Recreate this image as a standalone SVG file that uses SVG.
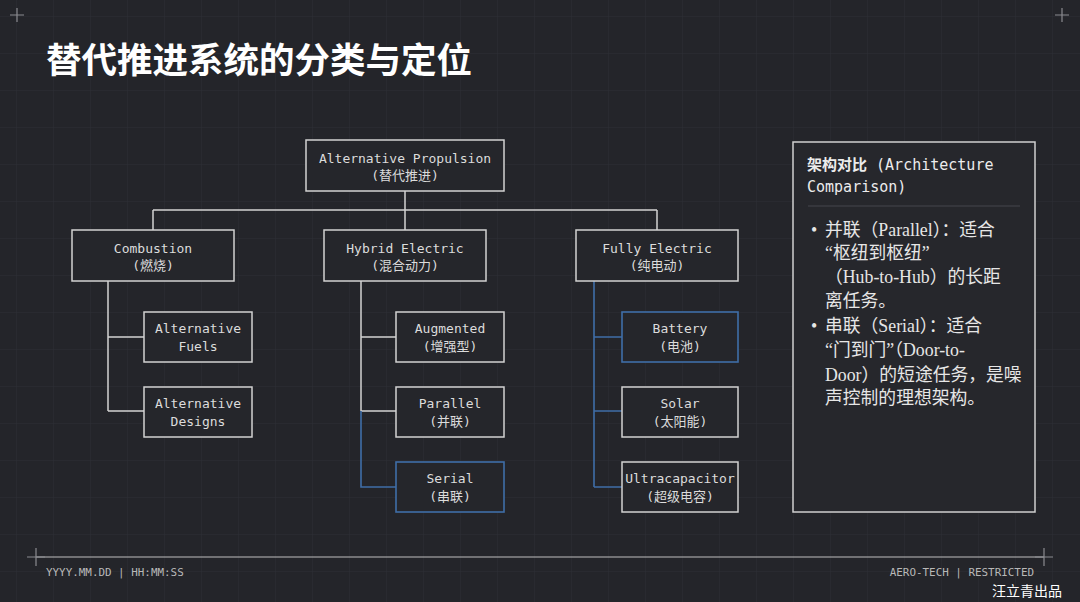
<svg xmlns="http://www.w3.org/2000/svg" width="1080" height="602" viewBox="0 0 1080 602">
<defs>
<pattern id="grid" x="16" y="16" width="37" height="37" patternUnits="userSpaceOnUse">
<path d="M0 0H37M0 0V37" fill="none" stroke="#34363d" stroke-width="1"/>
</pattern>
<style>
.box{fill:#25262b;stroke:#d2d2d2;stroke-width:1.5}
.boxb{fill:#25262b;stroke:#3f6ea8;stroke-width:1.6}
.t{font-family:"DejaVu Sans Mono","Noto Sans CJK SC",monospace;font-size:13px;fill:#dcdcdc;text-anchor:middle}
.w{fill:none;stroke:#d2d2d2;stroke-width:1.5}
.b{fill:none;stroke:#3f6ea8;stroke-width:1.6}
.cross{stroke:#8a8b90;stroke-width:1.2}
.note{font-family:"Liberation Serif","Noto Sans CJK SC",serif;font-size:17.8px;fill:#e6e6e6}
.foot{font-family:"DejaVu Sans Mono",monospace;font-size:10.9px;fill:#b8b8b8}
</style>
</defs>
<rect width="1080" height="602" fill="#24252a"/>
<rect width="1080" height="602" fill="url(#grid)" opacity="0.6"/>
<g id="corners">
<path class="cross" d="M10 15H24M17 8V22M1055 15H1069M1062 8V22"/>
</g>
<text x="46" y="73" font-family="Noto Sans CJK SC, sans-serif" font-weight="700" font-size="35.5" fill="#ffffff">替代推进系统的分类与定位</text>

<g id="connectors">
<path class="w" d="M405 191V210M153 210H657M153 210V230M405 210V230M657 210V230"/>
<path class="w" d="M108 281V411M108 337H144M108 411H144"/>
<path class="w" d="M361 281V411M361 337H396M361 411H396"/>
<path class="b" d="M361 411V487H396"/>
<path class="b" d="M594 281V487M594 337H622M594 411H622M594 487H622"/>
</g>

<g id="root"><rect class="box" x="306" y="140" width="198" height="51"/>
<text class="t" x="405" y="163">Alternative Propulsion</text><text class="t" x="405" y="180">(替代推进)</text></g>

<g id="combustion"><rect class="box" x="72" y="230" width="162" height="51"/>
<text class="t" x="153" y="253">Combustion</text><text class="t" x="153" y="270">(燃烧)</text></g>
<g id="hybrid"><rect class="box" x="324" y="230" width="162" height="51"/>
<text class="t" x="405" y="253">Hybrid Electric</text><text class="t" x="405" y="270">(混合动力)</text></g>
<g id="fully"><rect class="box" x="576" y="230" width="162" height="51"/>
<text class="t" x="657" y="253">Fully Electric</text><text class="t" x="657" y="270">(纯电动)</text></g>

<g id="altfuels"><rect class="box" x="144" y="312" width="108" height="50"/>
<text class="t" x="198" y="333">Alternative</text><text class="t" x="198" y="351">Fuels</text></g>
<g id="altdesigns"><rect class="box" x="144" y="387" width="108" height="50"/>
<text class="t" x="198" y="408">Alternative</text><text class="t" x="198" y="426">Designs</text></g>

<g id="augmented"><rect class="box" x="396" y="312" width="108" height="50"/>
<text class="t" x="450" y="333">Augmented</text><text class="t" x="450" y="351">(增强型)</text></g>
<g id="parallel"><rect class="box" x="396" y="387" width="108" height="50"/>
<text class="t" x="450" y="408">Parallel</text><text class="t" x="450" y="426">(并联)</text></g>
<g id="serial"><rect class="boxb" x="396" y="462" width="108" height="50"/>
<text class="t" x="450" y="483">Serial</text><text class="t" x="450" y="501">(串联)</text></g>

<g id="battery"><rect class="boxb" x="622" y="312" width="116" height="50"/>
<text class="t" x="680" y="333">Battery</text><text class="t" x="680" y="351">(电池)</text></g>
<g id="solar"><rect class="box" x="622" y="387" width="116" height="50"/>
<text class="t" x="680" y="408">Solar</text><text class="t" x="680" y="426">(太阳能)</text></g>
<g id="ultracap"><rect class="box" x="622" y="462" width="116" height="50"/>
<text class="t" x="680" y="483">Ultracapacitor</text><text class="t" x="680" y="501">(超级电容)</text></g>

<g id="panel">
<rect x="793" y="142" width="242" height="370" fill="#26272c" stroke="#cfcfcf" stroke-width="1.5"/>
<text x="807" y="170" font-family="DejaVu Sans Mono,Noto Sans CJK SC,monospace" font-size="15" fill="#ececec"><tspan font-family="Noto Sans CJK SC,sans-serif" font-weight="700">架构对比</tspan> (Architecture</text>
<text x="807" y="192" font-family="DejaVu Sans Mono,monospace" font-size="15" fill="#ececec">Comparison)</text>
<line x1="808" y1="206" x2="1020" y2="206" stroke="#44464c" stroke-width="1"/>
<text class="note" x="811" y="236">•</text>
<text class="note" x="825" y="236">并联（Parallel）：适合</text>
<text class="note" x="825" y="259">“枢纽到枢纽”</text>
<text class="note" x="825" y="283">（Hub-to-Hub）的长距</text>
<text class="note" x="825" y="307">离任务。</text>
<text class="note" x="811" y="332">•</text>
<text class="note" x="825" y="332">串联（Serial）：适合</text>
<text class="note" x="825" y="356">“门到门”（Door-to-</text>
<text class="note" x="825" y="381">Door）的短途任务，是噪</text>
<text class="note" x="825" y="404">声控制的理想架构。</text>
</g>

<g id="footer">
<line x1="36" y1="557" x2="1044" y2="557" stroke="#bdbdbd" stroke-width="1.2"/>
<path class="cross" d="M27 557H45M36 548V566M1035 557H1053M1044 548V566"/>
<text class="foot" x="46" y="576">YYYY.MM.DD | HH:MM:SS</text>
<text class="foot" x="1034" y="576" text-anchor="end">AERO-TECH | RESTRICTED</text>
<text x="1062" y="596" text-anchor="end" font-family="Noto Sans CJK SC,sans-serif" font-size="14" fill="#ffffff">汪立青出品</text>
</g>
</svg>
